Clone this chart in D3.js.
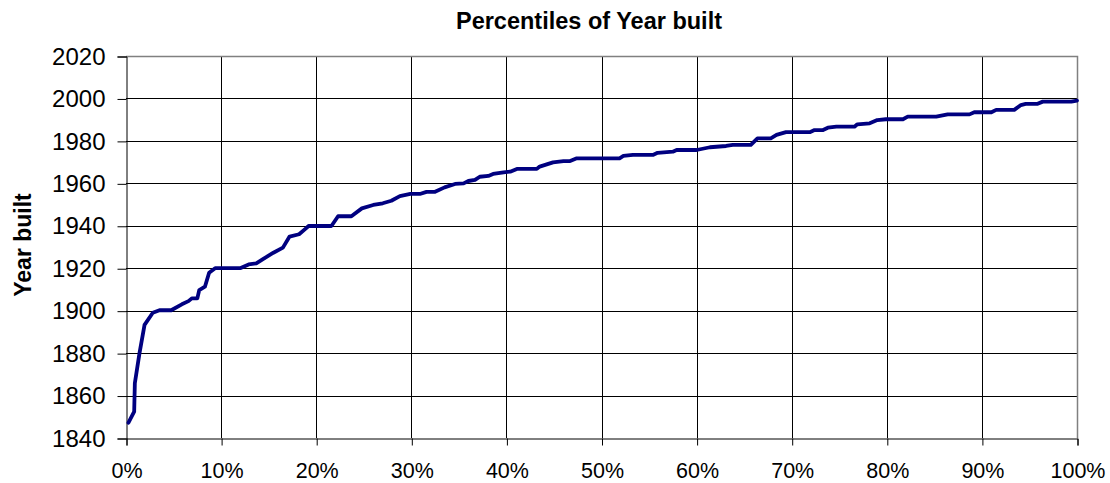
<!DOCTYPE html>
<html>
<head>
<meta charset="utf-8">
<script src="https://d3js.org/d3.v7.min.js"></script>
<style>
  body { margin: 0; background: #fff; }
  text { font-family: "Liberation Sans", Arial, sans-serif; fill: #000; }
</style>
</head>
<body>
<div id="chart"></div>
<script>
// percentile (in %)
var percentiles = [0.26, 0.86, 0.93, 1.42, 1.95, 2.82, 3.52, 4.75, 5.87, 6.57, 6.92, 7.5, 7.7, 8.3, 8.74, 9.37,
  12, 12.9, 13.7, 14.4, 15.5, 16.5, 17.2, 18.2, 18.8, 19.2, 21.6, 22.3, 23.7, 24.8, 26, 27, 27.9, 28.8, 29.9,
  30.9, 31.6, 32.5, 33.5, 34.6, 35.5, 36, 36.7, 37.2, 38.1, 38.6, 39.7, 40.4, 41.1, 43.2, 43.5, 44.9, 46, 46.7,
  47.4, 51.9, 52.3, 53.3, 55.4, 55.9, 57.5, 57.9, 60, 61.4, 63.1, 63.8, 65.7, 66.4, 67.8, 68.4, 69.4, 71.9,
  72.4, 73.3, 73.8, 74.7, 76.6, 76.9, 78.2, 79, 79.9, 81.7, 82.2, 85.2, 86.4, 88.7, 89.2, 91, 91.5, 93.4,
  94.1, 94.6, 95.8, 96.4, 99.4, 100]
// year built at each percentile
var years = [1847.2, 1852.4, 1865.8, 1880, 1893.3, 1899, 1900.2, 1900.2, 1903, 1904.5, 1905.8, 1905.8, 1909.7, 1911.3, 1917.9, 1920,
  1920, 1921.8, 1922.3, 1924.3, 1927.3, 1929.7, 1934.9, 1936, 1938.3, 1939.9, 1939.9, 1944.5, 1944.5, 1948.2, 1949.8, 1950.6, 1951.8, 1954, 1955,
  1955, 1956, 1956, 1958.1, 1959.7, 1960, 1961.1, 1961.6, 1963.1, 1963.5, 1964.4, 1965.2, 1965.5, 1966.8, 1966.8, 1967.9, 1969.9, 1970.5, 1970.5,
  1971.8, 1971.8, 1972.9, 1973.4, 1973.4, 1974.4, 1974.9, 1975.7, 1975.7, 1977, 1977.6, 1978.1, 1978.1, 1981.2, 1981.2, 1982.8, 1984.1, 1984.1,
  1985.1, 1985.1, 1986.2, 1986.7, 1986.7, 1987.8, 1988.3, 1989.8, 1990.2, 1990.2, 1991.4, 1991.4, 1992.5, 1992.5, 1993.5, 1993.5, 1994.6, 1994.6,
  1996.9, 1997.4, 1997.4, 1998.5, 1998.5, 1999]
// tick labels
var xTicks = [0, 10, 20, 30, 40, 50, 60, 70, 80, 90, 100]
var yTicks = [1840, 1860, 1880, 1900, 1920, 1940, 1960, 1980, 2000, 2020]

var width = 1110
var height = 483
var margin = {top: 56, right: 33, bottom: 45, left: 126}

var svg = d3.select("#chart")
  .append("svg")
  .attr("width", width)
  .attr("height", height)

var x = d3.scaleLinear()
  .domain([0, 100])
  .range([margin.left, width - margin.right])

var y = d3.scaleLinear()
  .domain([1840, 2020])
  .range([height - margin.bottom, margin.top])

// vertical grid lines
svg.append("g")
  .selectAll("line")
  .data(xTicks.slice(1, -1))
  .enter()
  .append("line")
  .attr("x1", function(d) { return Math.round(x(d)) + 0.5 })
  .attr("x2", function(d) { return Math.round(x(d)) + 0.5 })
  .attr("y1", y(2020))
  .attr("y2", y(1840))
  .attr("stroke", "#000")
  .attr("stroke-width", 1)

// horizontal grid lines
svg.append("g")
  .selectAll("line")
  .data(yTicks.slice(1, -1))
  .enter()
  .append("line")
  .attr("x1", x(0))
  .attr("x2", x(100))
  .attr("y1", function(d) { return Math.round(y(d)) + 0.5 })
  .attr("y2", function(d) { return Math.round(y(d)) + 0.5 })
  .attr("stroke", "#000")
  .attr("stroke-width", 1)

// top and right border of the plot area (grey)
svg.append("path")
  .attr("d", "M" + x(0) + "," + (Math.round(y(2020)) + 0.5) + "H" + (Math.round(x(100)) + 0.5) + "V" + y(1840))
  .attr("fill", "none")
  .attr("stroke", "#808080")
  .attr("stroke-width", 1.5)

// y axis
var yAxis = svg.append("g")
  .attr("transform", "translate(" + (Math.round(x(0)) + 0.5) + ",0.5)")
  .call(d3.axisLeft(y).tickValues(yTicks).tickSize(9).tickPadding(12).tickFormat(d3.format("d")))
yAxis.select(".domain").attr("stroke", "#000")
yAxis.selectAll(".tick line").attr("stroke", "#000")
yAxis.selectAll(".tick text")
  .attr("font-size", 24)
  .attr("font-family", "Liberation Sans, Arial, sans-serif")
  .attr("fill", "#000")

// x axis
var xAxis = svg.append("g")
  .attr("transform", "translate(0.5," + (Math.round(y(1840)) + 0.5) + ")")
  .call(d3.axisBottom(x).tickValues(xTicks).tickSize(7).tickPadding(17).tickFormat(function(d) { return d + "%" }))
xAxis.select(".domain").attr("stroke", "#000")
xAxis.selectAll(".tick line").attr("stroke", "#000")
xAxis.selectAll(".tick text")
  .attr("font-size", 21.5)
  .attr("font-family", "Liberation Sans, Arial, sans-serif")
  .attr("fill", "#000")

// the percentile line
var line = d3.line()
  .x(function(d) { return x(d[0]) })
  .y(function(d) { return y(d[1]) })

svg.append("path")
  .datum(d3.zip(percentiles, years))
  .attr("d", line)
  .attr("fill", "none")
  .attr("stroke", "#000080")
  .attr("stroke-width", 3.8)
  .attr("stroke-linejoin", "round")
  .attr("stroke-linecap", "round")

// title
svg.append("text")
  .attr("x", 589)
  .attr("y", 29)
  .attr("text-anchor", "middle")
  .attr("font-size", 23.5)
  .attr("font-weight", "bold")
  .text("Percentiles of Year built")

// y axis title
svg.append("text")
  .attr("transform", "translate(31," + 245 + ") rotate(-90)")
  .attr("text-anchor", "middle")
  .attr("font-size", 23)
  .attr("font-weight", "bold")
  .text("Year built")
</script>
</body>
</html>
